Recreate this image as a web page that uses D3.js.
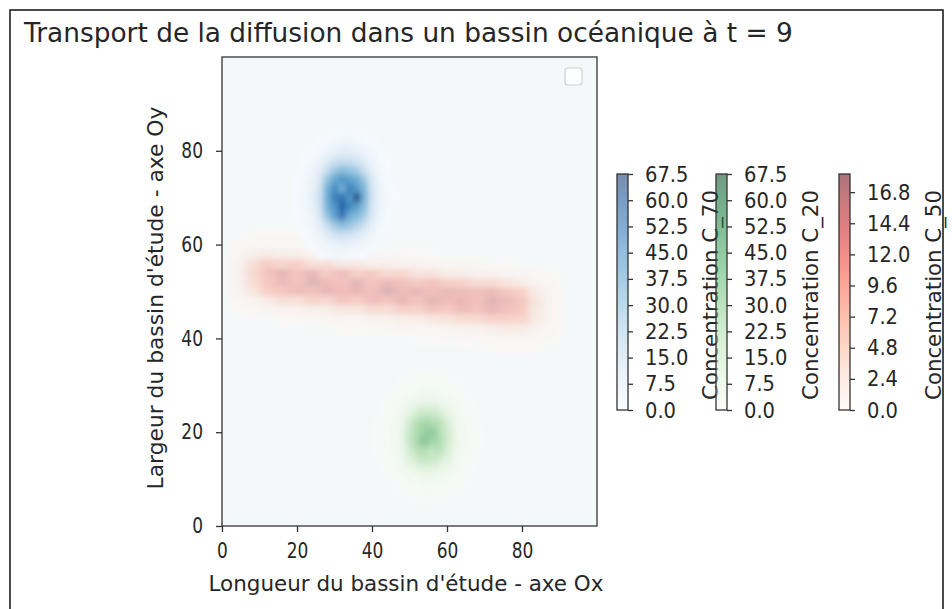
<!DOCTYPE html>
<html>
<head>
<meta charset="utf-8">
<script src="https://cdn.jsdelivr.net/npm/d3@7"></script>
<style>
  body { margin: 0; background: #fff; }
  svg { display: block; }
  text { font-family: "DejaVu Sans", sans-serif; fill: #262626; }
</style>
</head>
<body>
<svg id="chart" width="952" height="609"></svg>
<script>
// ---- texts and ticks ----
const titleText = "Transport de la diffusion dans un bassin océanique à t = 9";
const xLabelText = "Longueur du bassin d'étude - axe Ox";
const yLabelText = "Largeur du bassin d'étude - axe Oy";
const xTickValues = [0, 20, 40, 60, 80];
const yTickValues = [0, 20, 40, 60, 80];

// ---- colour bars ----
const c70Label = "Concentration C_70";
const c20Label = "Concentration C_20";
const c50Label = "Concentration C_50";
const c70Max = 67.5;
const c20Max = 67.5;
const c50Max = 18.2;
const c70Ticks = [0, 7.5, 15, 22.5, 30, 37.5, 45, 52.5, 60, 67.5];
const c20Ticks = [0, 7.5, 15, 22.5, 30, 37.5, 45, 52.5, 60, 67.5];
const c50Ticks = [0, 2.4, 4.8, 7.2, 9.6, 12, 14.4, 16.8];

// ---- C_70 concentration (blue patch), cell centres every 2 units ----
const c70X = [20, 22, 24, 26, 28, 30, 32, 34, 36, 38, 40, 42, 44, 46];
const c70Y = [84, 82, 80, 78, 76, 74, 72, 70, 68, 66, 64, 62, 60, 58];
const c70 = [
  [0, 0, 0, 0, 0, 0.5, 1, 1, 0.5, 0, 0, 0, 0, 0],
  [0, 0, 0, 0.5, 1, 2, 3, 3, 2, 1, 0.5, 0, 0, 0],
  [0, 0, 0.5, 1.5, 3, 5, 7, 7, 5, 3, 1.5, 0.5, 0, 0],
  [0, 0.5, 1.5, 4, 8, 13, 16, 15, 12, 7, 3, 1, 0.5, 0],
  [0, 1, 3, 7, 16, 26, 30, 28, 24, 14, 6, 2, 0.5, 0],
  [0.5, 1.5, 4, 11, 28, 38, 44, 40, 36, 26, 10, 3, 1, 0],
  [0.5, 2, 5, 14, 34, 46, 36, 50, 42, 32, 13, 4, 1, 0.5],
  [0.5, 2, 6, 15, 36, 50, 54, 44, 66, 34, 14, 4, 1, 0.5],
  [0.5, 2, 5, 14, 34, 44, 58, 48, 40, 30, 12, 4, 1, 0],
  [0.5, 1.5, 4, 11, 28, 40, 52, 36, 32, 24, 10, 3, 1, 0],
  [0, 1, 3, 7, 16, 26, 30, 27, 22, 14, 6, 2, 0.5, 0],
  [0, 0.5, 1.5, 4, 8, 12, 15, 13, 10, 6, 3, 1, 0, 0],
  [0, 0, 0.5, 1.5, 3, 5, 6, 5, 4, 2, 1, 0, 0, 0],
  [0, 0, 0, 0.5, 1, 1.5, 2, 1.5, 1, 0.5, 0, 0, 0, 0]
];

// ---- C_20 concentration (green patch), cell centres every 2 units ----
const c20X = [42, 44, 46, 48, 50, 52, 54, 56, 58, 60, 62, 64, 66, 68];
const c20Y = [32, 30, 28, 26, 24, 22, 20, 18, 16, 14, 12, 10, 8, 6];
const c20 = [
  [0, 0, 0, 0, 0, 0.5, 0.5, 0.5, 0.5, 0, 0, 0, 0, 0],
  [0, 0, 0, 0.5, 1, 1.5, 2, 2, 1.5, 1, 0.5, 0, 0, 0],
  [0, 0, 0.5, 1, 2.5, 4, 5, 5, 4, 2.5, 1, 0.5, 0, 0],
  [0, 0.5, 1, 3, 6, 10, 12, 12, 9, 6, 3, 1, 0.5, 0],
  [0, 0.5, 2, 5, 12, 20, 24, 23, 19, 12, 5, 2, 0.5, 0],
  [0.5, 1, 3, 8, 20, 30, 34, 32, 28, 18, 8, 3, 1, 0],
  [0.5, 1, 3, 9, 24, 32, 38, 44, 30, 22, 9, 3, 1, 0.5],
  [0.5, 1, 3, 9, 24, 34, 46, 36, 32, 22, 9, 3, 1, 0.5],
  [0.5, 1, 3, 8, 20, 28, 30, 24, 28, 18, 8, 3, 1, 0],
  [0, 0.5, 2, 5, 13, 20, 24, 22, 18, 12, 5, 2, 0.5, 0],
  [0, 0.5, 1, 3, 6, 10, 12, 12, 9, 6, 3, 1, 0.5, 0],
  [0, 0, 0.5, 1, 2.5, 4, 5, 5, 4, 2.5, 1, 0.5, 0, 0],
  [0, 0, 0, 0.5, 1, 1.5, 2, 2, 1.5, 1, 0.5, 0, 0, 0],
  [0, 0, 0, 0, 0, 0.5, 0.5, 0.5, 0.5, 0, 0, 0, 0, 0]
];

// ---- C_50 concentration (red band), cell centres every 4 x 2 units ----
const c50X = [4, 8, 12, 16, 20, 24, 28, 32, 36, 40, 44, 48, 52, 56, 60, 64, 68, 72, 76, 80, 84, 88];
const c50Y = [62, 60, 58, 56, 54, 52, 50, 48, 46, 44, 42, 40, 38];
const c50 = [
  [0, 0.2, 0.3, 0.3, 0.2, 0.1, 0, 0, 0, 0, 0, 0, 0, 0, 0, 0, 0, 0, 0, 0, 0, 0],
  [0.3, 0.6, 0.9, 0.7, 0.5, 0.4, 0.3, 0.2, 0.1, 0, 0, 0, 0, 0, 0, 0, 0, 0, 0, 0, 0, 0],
  [0.9, 2.6, 3.6, 2.8, 2.7, 1.6, 1.7, 1.0, 0.9, 0.5, 0.4, 0.3, 0.2, 0.1, 0, 0, 0, 0, 0, 0, 0, 0],
  [1.7, 5.8, 9.4, 7.6, 8.8, 5.6, 6.4, 3.8, 4.2, 2.5, 2.4, 1.5, 1.6, 0.9, 0.8, 0.5, 0.4, 0.2, 0.1, 0, 0, 0],
  [1.8, 6.8, 11.4, 14.6, 10.8, 13.6, 9.6, 12.4, 8.4, 9.6, 6.4, 7.2, 4.6, 4.8, 3.0, 2.9, 1.8, 1.7, 1.2, 0.8, 0.3, 0.1],
  [1.6, 6.4, 9.8, 13.2, 11.0, 15.8, 12.4, 11.2, 14.4, 10.6, 13.0, 11.4, 9.6, 11.2, 8.6, 8.4, 6.2, 6.4, 4.6, 3.2, 1.1, 0.3],
  [1.2, 4.4, 9.2, 10.4, 12.6, 11.2, 14.2, 12.0, 13.4, 11.6, 16.4, 12.2, 14.0, 11.8, 13.2, 12.4, 11.6, 12.8, 10.2, 8.4, 3.4, 0.8],
  [0.4, 1.6, 3.4, 5.8, 5.6, 8.2, 7.4, 10.6, 9.2, 12.4, 10.8, 13.6, 11.0, 14.8, 12.2, 13.4, 11.4, 15.2, 12.6, 10.4, 4.6, 1.2],
  [0.1, 0.4, 0.8, 1.6, 1.6, 2.6, 2.8, 4.2, 4.2, 6.4, 6.0, 8.6, 8.0, 10.8, 9.6, 12.6, 10.8, 13.4, 11.2, 9.8, 3.8, 1.0],
  [0, 0, 0, 0.1, 0.2, 0.5, 0.7, 1.0, 1.1, 1.7, 1.8, 2.8, 3.0, 4.2, 4.8, 6.4, 6.6, 8.6, 8.4, 7.6, 3.6, 1.1],
  [0, 0, 0, 0, 0, 0, 0, 0.1, 0.1, 0.2, 0.3, 0.5, 0.7, 1.0, 1.3, 1.7, 2.0, 2.8, 3.4, 3.4, 1.8, 0.6],
  [0, 0, 0, 0, 0, 0, 0, 0, 0, 0, 0, 0, 0.1, 0.1, 0.2, 0.3, 0.4, 0.6, 0.8, 0.9, 0.5, 0.2],
  [0, 0, 0, 0, 0, 0, 0, 0, 0, 0, 0, 0, 0, 0, 0, 0, 0, 0.1, 0.1, 0.1, 0.1, 0]
];

// ---- layout ----
const svg = d3.select("#chart");
const box = { left: 222, right: 597, top: 57, bottom: 526 };
const x = d3.scaleLinear().domain([0, 100]).range([box.left, box.right]);
const y = d3.scaleLinear().domain([0, 100]).range([box.bottom, box.top]);

const defs = svg.append("defs");
defs.append("clipPath").attr("id", "plot-clip")
  .append("rect")
  .attr("x", box.left).attr("y", box.top)
  .attr("width", box.right - box.left).attr("height", box.bottom - box.top);
function blurFilter(id, sd) {
  defs.append("filter").attr("id", id)
    .attr("x", "-20%").attr("y", "-20%").attr("width", "140%").attr("height", "140%")
    .append("feGaussianBlur").attr("stdDeviation", sd);
}
blurFilter("soft-red", "4.2 2.8");
blurFilter("soft-green", "3 3.4");
blurFilter("soft-blue", "2.6 3");

// outer frame
svg.append("rect")
  .attr("x", 10).attr("y", 10).attr("width", 933).attr("height", 640)
  .attr("fill", "none").attr("stroke", "#111").attr("stroke-width", 1.5);

// plot background
svg.append("rect")
  .attr("x", box.left).attr("y", box.top)
  .attr("width", box.right - box.left).attr("height", box.bottom - box.top)
  .attr("fill", "#f4f7f6");

const fieldRoot = svg.append("g").attr("clip-path", "url(#plot-clip)");

function drawField(xs, ys, grid, interp, vmax, opacity, filterId) {
  const dx = Math.abs(xs[1] - xs[0]);
  const dy = Math.abs(ys[1] - ys[0]);
  const cells = [];
  grid.forEach((row, i) => row.forEach((v, j) => {
    if (v > 0) cells.push({ cx: xs[j], cy: ys[i], v });
  }));
  fieldRoot.append("g")
    .attr("filter", `url(#${filterId})`)
    .attr("opacity", opacity)
    .selectAll("rect")
    .data(cells)
    .join("rect")
    .attr("x", d => x(d.cx - dx / 2))
    .attr("y", d => y(d.cy + dy / 2))
    .attr("width", x(dx) - x(0) + 0.5)
    .attr("height", y(0) - y(dy) + 0.5)
    .attr("fill", d => interp(Math.min(1, d.v / vmax)));
}

drawField(c50X, c50Y, c50, d3.interpolateReds, c50Max, 0.42, "soft-red");
// zero level of the upper fields, covering the whole basin
fieldRoot.append("rect")
  .attr("x", box.left).attr("y", box.top)
  .attr("width", box.right - box.left).attr("height", box.bottom - box.top)
  .attr("fill", d3.interpolateBlues(0)).attr("opacity", 0.3);
drawField(c20X, c20Y, c20, d3.interpolateGreens, c20Max, 0.6, "soft-green");
drawField(c70X, c70Y, c70, d3.interpolateBlues, c70Max, 0.9, "soft-blue");

// narrow-but-tall tick lettering
function squash(sel, wSize, hSize) {
  sel.each(function () {
    const el = d3.select(this);
    el.attr("font-size", wSize);
    const w = this.getComputedTextLength();
    el.attr("font-size", hSize).attr("textLength", w).attr("lengthAdjust", "spacingAndGlyphs");
  });
}

// axes
const xAxis = svg.append("g")
  .attr("transform", `translate(0,${box.bottom})`)
  .call(d3.axisBottom(x).tickValues(xTickValues).tickSize(6).tickPadding(11));
const yAxis = svg.append("g")
  .attr("transform", `translate(${box.left},0)`)
  .call(d3.axisLeft(y).tickValues(yTickValues).tickSize(6).tickPadding(13));
[xAxis, yAxis].forEach(a => {
  a.select(".domain").remove();
  a.selectAll(".tick line").attr("stroke", "#333").attr("stroke-width", 1.3);
  const tx = a.selectAll(".tick text").attr("font-family", "DejaVu Sans").attr("fill", "#262626");
  squash(tx, 17, 21);
});

// spines
svg.append("rect")
  .attr("x", box.left).attr("y", box.top)
  .attr("width", box.right - box.left).attr("height", box.bottom - box.top)
  .attr("fill", "none").attr("stroke", "#333").attr("stroke-width", 1.3);

// empty legend frame
svg.append("rect")
  .attr("x", 565).attr("y", 68).attr("width", 17).attr("height", 17).attr("rx", 3)
  .attr("fill", "#fff").attr("fill-opacity", 0.8)
  .attr("stroke", "#d0d0d0").attr("stroke-width", 1.2);

function fitWidth(sel, target) {
  const w = sel.node().getComputedTextLength();
  const fs = parseFloat(sel.attr("font-size"));
  sel.attr("font-size", fs * target / w);
}

// title and axis labels
const t = svg.append("text").attr("x", 24).attr("y", 42).attr("font-size", 22).text(titleText);
fitWidth(t, 769);
const xl = svg.append("text").attr("x", 406).attr("y", 591).attr("text-anchor", "middle")
  .attr("font-size", 19).text(xLabelText);
fitWidth(xl, 395);
const yl = svg.append("text").attr("transform", "translate(155,298) rotate(-90)")
  .attr("text-anchor", "middle").attr("dominant-baseline", "central")
  .attr("font-size", 19).text(yLabelText);
fitWidth(yl, 383);

// colour bars
const barTop = 174, barBottom = 410, barW = 11;
function colorBar(x0, interp, vmax, ticks, label, labelX) {
  const id = "grad-" + label.replace(/[^A-Za-z0-9]/g, "");
  const grad = defs.append("linearGradient").attr("id", id)
    .attr("x1", 0).attr("y1", 1).attr("x2", 0).attr("y2", 0);
  d3.range(0, 1.0001, 0.05).forEach(s => {
    grad.append("stop").attr("offset", s).attr("stop-color", interp(s));
  });
  const s = d3.scaleLinear().domain([0, vmax]).range([barBottom, barTop]);
  svg.append("rect").attr("x", x0).attr("y", barTop).attr("width", barW).attr("height", barBottom - barTop)
    .attr("fill", `url(#${id})`).attr("fill-opacity", 0.55);
  svg.append("rect").attr("x", x0).attr("y", barTop).attr("width", barW).attr("height", barBottom - barTop)
    .attr("fill", "none").attr("stroke", "#333").attr("stroke-width", 1.3);
  const ax = svg.append("g").attr("transform", `translate(${x0 + barW},0)`)
    .call(d3.axisRight(s).tickValues(ticks).tickSize(5).tickPadding(12).tickFormat(d3.format(".1f")));
  ax.select(".domain").remove();
  ax.selectAll(".tick line").attr("stroke", "#333").attr("stroke-width", 1.3);
  const tx = ax.selectAll(".tick text").attr("font-family", "DejaVu Sans").attr("fill", "#262626");
  squash(tx, 19.5, 22);
  const lt = svg.append("text").attr("transform", `translate(${labelX},${(barTop + barBottom) / 2 + 3}) rotate(-90)`)
    .attr("text-anchor", "middle").attr("dominant-baseline", "central")
    .attr("font-size", 19).text(label);
  fitWidth(lt, 210);
}
colorBar(617, d3.interpolateBlues, c70Max, c70Ticks, c70Label, 710);
colorBar(716, d3.interpolateGreens, c20Max, c20Ticks, c20Label, 810);
colorBar(839, d3.interpolateReds, c50Max, c50Ticks, c50Label, 933);
</script>
</body>
</html>
